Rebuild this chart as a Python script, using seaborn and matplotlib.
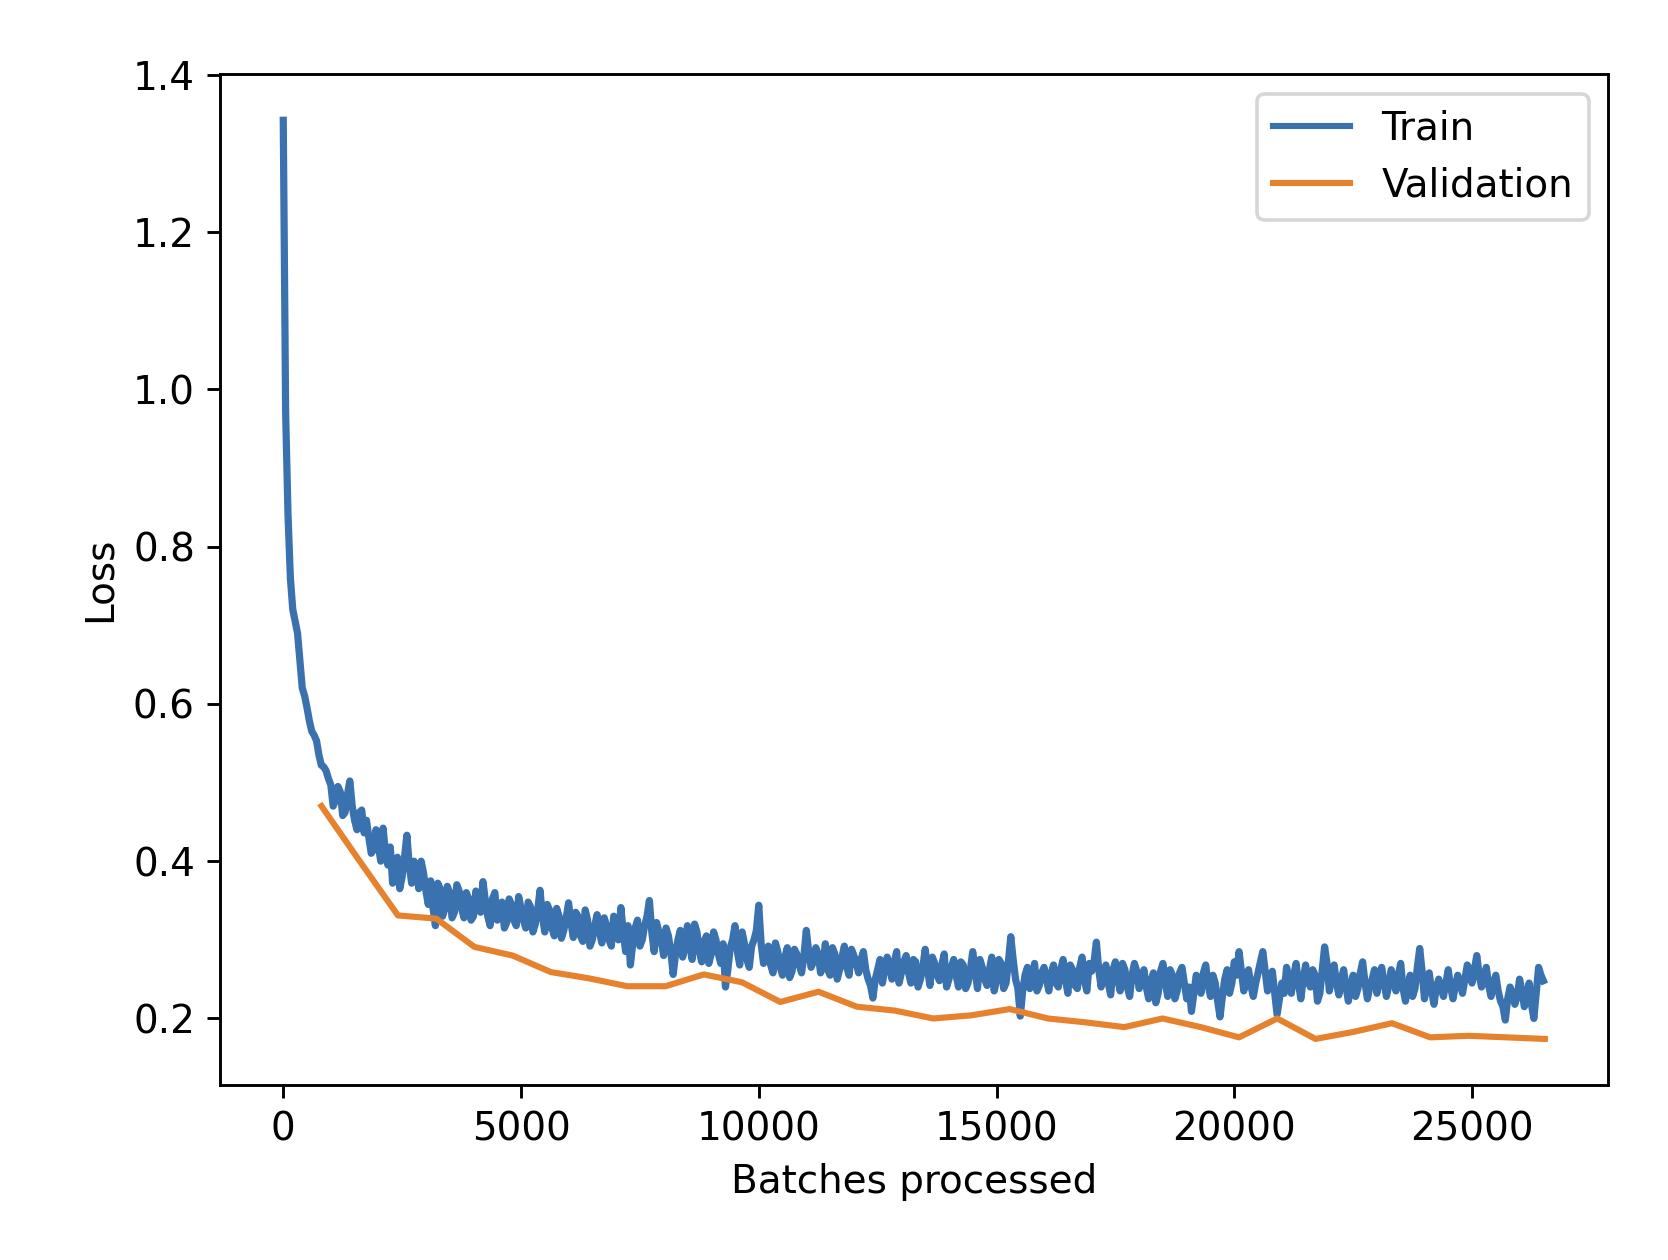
import numpy as np
import pandas as pd
import matplotlib
matplotlib.use("Agg")
import matplotlib.pyplot as plt
import seaborn as sns

# ---------------- data ----------------
batches_per_epoch = 804
n_epochs = 33

# train loss logged every 100 batches (plus the very first steps)
train_batches = [0, 50] + list(range(100, 26501, 100))
train_loss = [
    1.342, 0.97,
    0.84, 0.72, 0.69, 0.62, 0.595, 0.565, 0.553, 0.522, 0.515, 0.497,
    0.478, 0.488, 0.462, 0.502, 0.452, 0.462, 0.436, 0.430, 0.415, 0.420,
    0.442, 0.395, 0.372, 0.405, 0.380, 0.433, 0.372, 0.390, 0.400, 0.362,
    0.375, 0.318, 0.365, 0.340, 0.360, 0.335, 0.362, 0.328, 0.352, 0.330,
    0.355, 0.374, 0.330, 0.352, 0.325, 0.348, 0.322, 0.345, 0.318, 0.340,
    0.315, 0.342, 0.320, 0.363, 0.310, 0.338, 0.305, 0.330, 0.312, 0.347,
    0.303, 0.330, 0.298, 0.325, 0.300, 0.332, 0.296, 0.318, 0.292, 0.322,
    0.341, 0.285, 0.268, 0.315, 0.292, 0.318, 0.350, 0.285, 0.310, 0.280,
    0.305, 0.256, 0.300, 0.278, 0.318, 0.275, 0.310, 0.272, 0.305, 0.282,
    0.300, 0.270, 0.240, 0.290, 0.318, 0.268, 0.295, 0.265, 0.300, 0.344,
    0.270, 0.292, 0.258, 0.285, 0.255, 0.290, 0.260, 0.282, 0.258, 0.312,
    0.265, 0.290, 0.258, 0.295, 0.255, 0.282, 0.262, 0.292, 0.255, 0.280,
    0.258, 0.285, 0.250, 0.226, 0.262, 0.245, 0.278, 0.250, 0.285, 0.258,
    0.280, 0.245, 0.272, 0.250, 0.288, 0.242, 0.270, 0.248, 0.282, 0.250,
    0.275, 0.240, 0.268, 0.245, 0.285, 0.238, 0.265, 0.242, 0.278, 0.248,
    0.270, 0.245, 0.304, 0.250, 0.203, 0.255, 0.238, 0.270, 0.242, 0.265,
    0.235, 0.268, 0.240, 0.275, 0.232, 0.262, 0.238, 0.278, 0.235, 0.260,
    0.297, 0.240, 0.268, 0.230, 0.272, 0.235, 0.262, 0.228, 0.270, 0.238,
    0.262, 0.225, 0.258, 0.232, 0.270, 0.228, 0.255, 0.235, 0.265, 0.225,
    0.209, 0.255, 0.232, 0.268, 0.228, 0.245, 0.202, 0.250, 0.232, 0.272,
    0.285, 0.235, 0.262, 0.228, 0.258, 0.285, 0.235, 0.260, 0.205, 0.245,
    0.265, 0.232, 0.270, 0.225, 0.268, 0.240, 0.255, 0.232, 0.291, 0.235,
    0.268, 0.230, 0.262, 0.222, 0.255, 0.238, 0.272, 0.225, 0.250, 0.232,
    0.265, 0.228, 0.262, 0.235, 0.270, 0.222, 0.255, 0.238, 0.289, 0.225,
    0.258, 0.218, 0.250, 0.228, 0.262, 0.225, 0.255, 0.232, 0.268, 0.245,
    0.280, 0.240, 0.265, 0.228, 0.255, 0.222, 0.198, 0.240, 0.218, 0.250,
    0.215, 0.245, 0.200, 0.265, 0.248,
]

# intermediate train-loss readings (batches 150, 250, ..., 26450)
train_mid_batches = list(range(150, 26451, 100))
train_mid_loss = [
    0.76, 0.705, 0.655, 0.61, 0.578, 0.56, 0.535, 0.52, 0.505,
    0.470, 0.495, 0.458, 0.485, 0.470, 0.440, 0.465, 0.452, 0.410, 0.440,
    0.400, 0.410, 0.418, 0.390, 0.365, 0.405, 0.395, 0.400, 0.365, 0.385,
    0.345, 0.340, 0.372, 0.330, 0.368, 0.328, 0.370, 0.340, 0.360, 0.325,
    0.362, 0.335, 0.350, 0.318, 0.360, 0.338, 0.315, 0.352, 0.325, 0.355,
    0.325, 0.348, 0.310, 0.338, 0.330, 0.345, 0.315, 0.340, 0.302, 0.328,
    0.322, 0.335, 0.305, 0.338, 0.292, 0.318, 0.310, 0.328, 0.300, 0.330,
    0.300, 0.310, 0.318, 0.295, 0.325, 0.300, 0.330, 0.310, 0.322, 0.298,
    0.315, 0.285, 0.282, 0.312, 0.295, 0.290, 0.320, 0.285, 0.298, 0.270,
    0.310, 0.282, 0.295, 0.262, 0.300, 0.285, 0.310, 0.275, 0.292, 0.312,
    0.295, 0.285, 0.268, 0.296, 0.265, 0.278, 0.252, 0.288, 0.268, 0.280,
    0.285, 0.272, 0.282, 0.268, 0.262, 0.290, 0.250, 0.278, 0.265, 0.288,
    0.270, 0.275, 0.262, 0.242, 0.250, 0.275, 0.262, 0.268, 0.272, 0.245,
    0.272, 0.258, 0.275, 0.240, 0.265, 0.262, 0.278, 0.255, 0.268, 0.240,
    0.265, 0.255, 0.272, 0.238, 0.262, 0.260, 0.275, 0.250, 0.262, 0.235,
    0.275, 0.238, 0.272, 0.275, 0.238, 0.235, 0.265, 0.250, 0.235, 0.258,
    0.250, 0.258, 0.245, 0.262, 0.250, 0.268, 0.242, 0.265, 0.248, 0.270,
    0.272, 0.262, 0.258, 0.245, 0.262, 0.250, 0.270, 0.240, 0.255, 0.260,
    0.250, 0.240, 0.248, 0.220, 0.260, 0.245, 0.262, 0.225, 0.258, 0.245,
    0.240, 0.232, 0.245, 0.258, 0.242, 0.255, 0.222, 0.228, 0.262, 0.245,
    0.255, 0.260, 0.250, 0.242, 0.245, 0.272, 0.260, 0.250, 0.232, 0.225,
    0.232, 0.250, 0.255, 0.245, 0.250, 0.248, 0.262, 0.222, 0.262, 0.270,
    0.255, 0.245, 0.250, 0.240, 0.242, 0.228, 0.258, 0.245, 0.240, 0.262,
    0.250, 0.245, 0.242, 0.250, 0.255, 0.238, 0.240, 0.228, 0.265, 0.260,
    0.242, 0.235, 0.240, 0.238, 0.245, 0.240, 0.242, 0.245, 0.250, 0.262,
    0.262, 0.255, 0.250, 0.242, 0.245, 0.235, 0.215, 0.225, 0.232, 0.228,
    0.235, 0.228, 0.218, 0.232, 0.255,
]

val_epochs = list(range(1, n_epochs + 1))
val_loss = [
    0.470, 0.400, 0.331, 0.327, 0.291, 0.280, 0.259, 0.251, 0.241, 0.241,
    0.256, 0.246, 0.221, 0.234, 0.215, 0.210, 0.200, 0.204, 0.212, 0.200,
    0.195, 0.189, 0.200, 0.189, 0.176, 0.200, 0.174, 0.183, 0.194, 0.176,
    0.178, 0.176, 0.174,
]

legend_labels = ["Train", "Validation"]
x_label = "Batches processed"
y_label = "Loss"

train_color = "#3a72b0"
val_color = "#e6822e"

# ---------------- plot ----------------
plt.rcParams["font.size"] = 10.75

train_df = pd.DataFrame({
    "batch": train_batches + train_mid_batches,
    "loss": train_loss + train_mid_loss,
}).sort_values("batch")
val_df = pd.DataFrame({"batch": [e * batches_per_epoch for e in val_epochs],
                       "loss": val_loss})

fig, ax = plt.subplots(figsize=(1668 / 260, 1260 / 260), dpi=260)
fig.subplots_adjust(left=0.132, right=0.964, top=0.941, bottom=0.139)

sns.lineplot(data=train_df, x="batch", y="loss", ax=ax, color=train_color,
             label=legend_labels[0], estimator=None, sort=True, linewidth=2.0)
sns.lineplot(data=val_df, x="batch", y="loss", ax=ax, color=val_color,
             label=legend_labels[1], estimator=None, linewidth=1.7)

ax.set_xlabel(x_label)
ax.set_ylabel(y_label)
ax.set_yticks([0.2, 0.4, 0.6, 0.8, 1.0, 1.2, 1.4])
ax.set_xticks([0, 5000, 10000, 15000, 20000, 25000])
leg = ax.legend(loc="upper right")
for line in leg.get_lines():
    line.set_linewidth(1.7)

fig.savefig("out.png", dpi=260)
